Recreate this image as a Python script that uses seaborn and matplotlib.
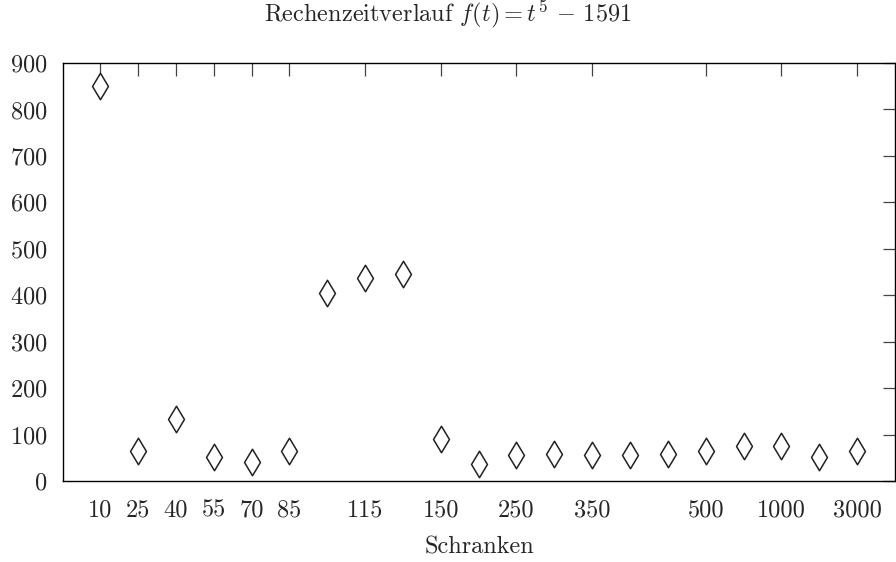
import matplotlib as mpl
import matplotlib.pyplot as plt
import pandas as pd
import seaborn as sns

# Schranken (alle Messpunkte, gleichmaessig verteilt) und Rechenzeiten
schranken = ["10", "25", "40", "55", "70", "85", "100", "115", "130", "150", "200",
             "250", "300", "350", "400", "450", "500", "750", "1000", "2000", "3000"]
zeiten = [850, 65, 133, 52, 41, 65, 405, 437, 446, 90, 37,
          56, 58, 56, 56, 58, 65, 75, 75, 52, 65]
tick_labels = ["10", "25", "40", "55", "70", "85", "115", "150", "250", "350", "500", "1000", "3000"]

sns.set_theme(style="white")
plt.rcParams["font.family"] = ["cmr10", "DejaVu Serif"]
plt.rcParams["mathtext.fontset"] = "cm"
plt.rcParams["axes.formatter.use_mathtext"] = True

df = pd.DataFrame({"schranke": schranken, "zeit": zeiten})
df["pos"] = range(len(df))

fig = plt.figure(figsize=(8.96, 5.62), dpi=100)
ax = fig.add_axes([0.0703, 0.1441, 0.9286, 0.7438])

sns.scatterplot(data=df, x="pos", y="zeit", marker="d", s=13.5 ** 2,
                facecolor="white", edgecolor="#222222", linewidth=1.1, ax=ax, zorder=3)

ticks = [schranken.index(t) for t in tick_labels]
ax.set_xticks(ticks)
ax.set_xticklabels(tick_labels)
ax.set_xlim(-0.98, 21.0)
ax.set_ylim(0, 900)
ax.set_yticks(range(0, 901, 100))

for s in ax.spines.values():
    s.set_color("black")
    s.set_linewidth(1.0)
ax.tick_params(axis="both", direction="in", length=9, width=0.9, color="#444444",
               labelsize=17.5, top=True, right=True, labeltop=False, labelright=False)
ax.tick_params(axis="x", pad=13)
ax.tick_params(axis="y", pad=11)

ax.set_xlabel("Schranken", fontsize=17.5, labelpad=11)
ax.set_ylabel("")
ax.set_title(r"Rechenzeitverlauf $f(t) = t^5 \,-\, 1591$", fontsize=17.5, pad=30, x=0.463)

plt.savefig("out.png", dpi=100)
